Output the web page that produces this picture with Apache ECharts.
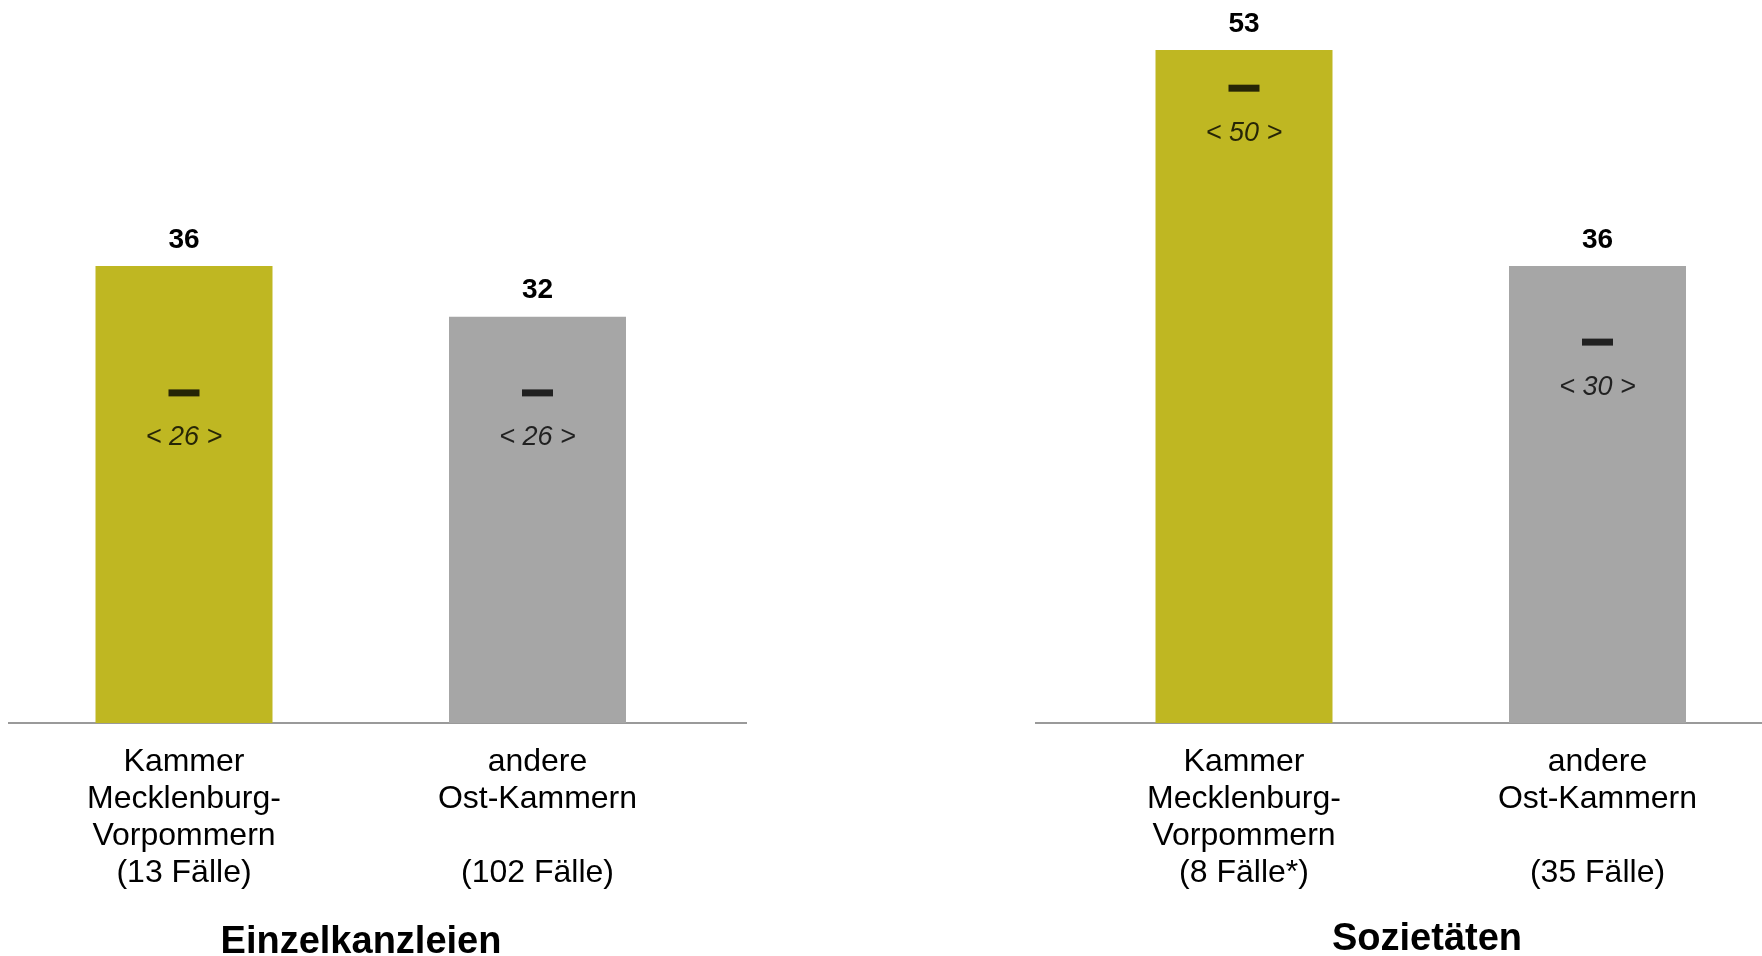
<!DOCTYPE html>
<html>
<head>
<meta charset="utf-8">
<title>Einzelkanzleien und Sozietäten</title>
<script src="https://cdn.jsdelivr.net/npm/echarts@6/dist/echarts.min.js"></script>
<style>
  html, body { margin: 0; padding: 0; background: #ffffff; }
  #chart { width: 1762px; height: 956px; }
</style>
</head>
<body>
<div id="chart"></div>
<script>
// Category labels of both panels
const categoriesEinzel = [
  'Kammer\nMecklenburg-\nVorpommern\n(13 Fälle)',
  'andere\nOst-Kammern\n\n(102 Fälle)'
];
const categoriesSoziet = [
  'Kammer\nMecklenburg-\nVorpommern\n(8 Fälle*)',
  'andere\nOst-Kammern\n\n(35 Fälle)'
];

// Mean values (bars) and medians (dash + bracketed label)
const meanEinzel = [36, 32];
const medianEinzel = [26, 26];
const meanSoziet = [53, 36];
const medianSoziet = [50, 30];

const panelTitles = ['Einzelkanzleien', 'Sozietäten'];

const barColors = ['#BFB722', '#A6A6A6'];
const FONT = '"Liberation Sans", Arial, sans-serif';

function barData(values) {
  return values.map((v, i) => ({ value: v, itemStyle: { color: barColors[i] } }));
}

function panelSeries(idx, means, medians) {
  return [
    {
      type: 'bar',
      xAxisIndex: idx,
      yAxisIndex: idx,
      data: barData(means),
      barWidth: 177,
      label: {
        show: true,
        position: 'top',
        distance: 12,
        color: '#000',
        fontFamily: FONT,
        fontWeight: 'bold',
        fontSize: 28
      },
      silent: true,
      z: 2
    },
    {
      type: 'scatter',
      xAxisIndex: idx,
      yAxisIndex: idx,
      data: medians,
      symbol: 'rect',
      symbolSize: [31, 7],
      itemStyle: { color: '#000' },
      label: {
        show: true,
        position: 'bottom',
        distance: 28,
        formatter: p => '< ' + p.value + ' >',
        color: '#000',
        fontFamily: FONT,
        fontStyle: 'italic',
        fontSize: 27
      },
      silent: true,
      z: 3
    }
  ];
}

// Categories sit on the axis ends so the two bars are centred on them
function catAxis(idx, cats) {
  return {
    type: 'category',
    gridIndex: idx,
    data: cats,
    boundaryGap: false,
    axisLine: { show: false },
    axisTick: { show: false },
    axisLabel: {
      color: '#000',
      fontFamily: FONT,
      fontSize: 32,
      lineHeight: 37,
      margin: 21,
      interval: 0
    }
  };
}

function valAxis(idx) {
  return {
    type: 'value',
    gridIndex: idx,
    min: 0,
    max: 56,
    show: false,
    splitLine: { show: false }
  };
}

const chart = echarts.init(document.getElementById('chart'), null, { renderer: 'canvas' });

chart.setOption({
  backgroundColor: '#ffffff',
  animation: false,
  title: [
    {
      text: panelTitles[0],
      left: 361,
      top: 924,
      textAlign: 'center',
      padding: 0,
      textStyle: { fontFamily: FONT, fontWeight: 'bold', fontSize: 38, color: '#000' }
    },
    {
      text: panelTitles[1],
      left: 1427,
      top: 921,
      textAlign: 'center',
      padding: 0,
      textStyle: { fontFamily: FONT, fontWeight: 'bold', fontSize: 38, color: '#000' }
    }
  ],
  grid: [
    { left: 184, top: 12, width: 353.5, height: 711 },
    { left: 1244, top: 12, width: 353.5, height: 711 }
  ],
  xAxis: [catAxis(0, categoriesEinzel), catAxis(1, categoriesSoziet)],
  yAxis: [valAxis(0), valAxis(1)],
  series: [
    ...panelSeries(0, meanEinzel, medianEinzel),
    ...panelSeries(1, meanSoziet, medianSoziet)
  ]
});

// Baselines of both panels, placed at the zero of each value axis
const y0 = chart.convertToPixel({ yAxisIndex: 0 }, 0);
const y1 = chart.convertToPixel({ yAxisIndex: 1 }, 0);
chart.setOption({
  graphic: [
    {
      type: 'line',
      shape: { x1: 8, y1: y0, x2: 747, y2: y0 },
      style: { stroke: '#9A9A9A', lineWidth: 2 },
      z: 1
    },
    {
      type: 'line',
      shape: { x1: 1035, y1: y1, x2: 1762, y2: y1 },
      style: { stroke: '#9A9A9A', lineWidth: 2 },
      z: 1
    }
  ]
});
</script>
</body>
</html>
